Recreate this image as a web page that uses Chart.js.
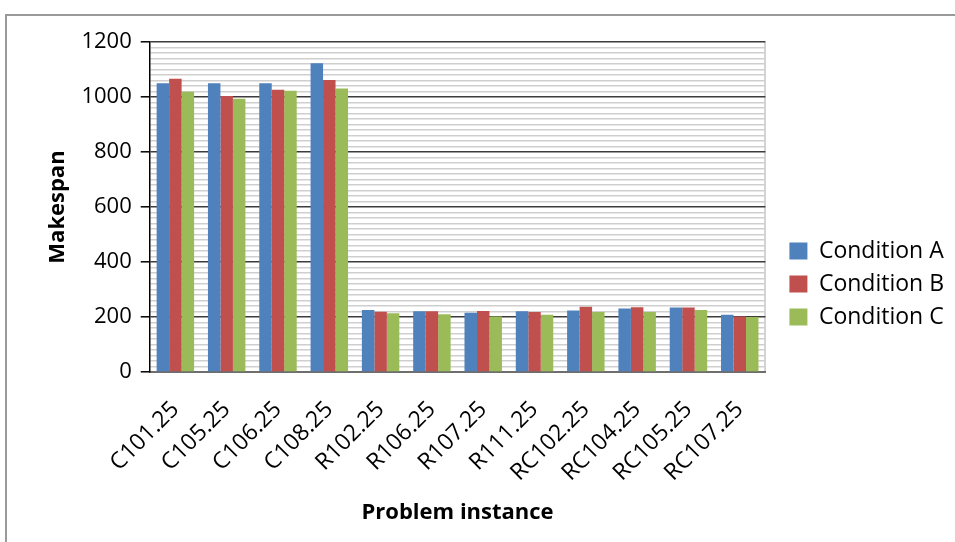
<!DOCTYPE html>
<html>
<head>
<meta charset="utf-8">
<script src="https://cdn.jsdelivr.net/npm/chart.js@4/dist/chart.umd.min.js"></script>
<style>
  html, body { margin: 0; padding: 0; background: #fff; }
  #wrap { position: relative; width: 955px; height: 542px; }
  #frame { position: absolute; left: 5px; top: 14px; width: 960px; height: 540px;
           border-top: 2px solid #9a9a9a; border-left: 2px solid #9a9a9a; box-sizing: border-box; }
  canvas { position: absolute; left: 0; top: 0; }
</style>
</head>
<body>
<div id="wrap">
  <div id="frame"></div>
  <canvas id="chart" width="955" height="542"></canvas>
</div>
<script>
// Problem instances and makespan per condition
const instances = ['C101.25', 'C105.25', 'C106.25', 'C108.25', 'R102.25', 'R106.25',
                   'R107.25', 'R111.25', 'RC102.25', 'RC104.25', 'RC105.25', 'RC107.25'];
const conditionA = [1050, 1050, 1050, 1123, 226, 221, 216, 221, 224, 231, 235, 208];
const conditionB = [1066, 1004, 1026, 1062, 219, 221, 222, 218, 237, 236, 235, 202];
const conditionC = [1019, 994, 1023, 1031, 214, 210, 202, 208, 218, 218, 226, 200];
const seriesNames = ['Condition A', 'Condition B', 'Condition C'];
const yMin = 0, yMax = 1200, majorStep = 200, minorStep = 20;

const FONT = "'Open Sans', 'DejaVu Sans', sans-serif";
const isMajor = v => v % majorStep === 0;

// nudge the legend away from the plot area
const legendOffset = {
  id: 'legendOffset',
  afterLayout(chart) {
    const lg = chart.legend;
    if (lg) { lg.left += 14; lg.right += 14; }
  }
};

new Chart(document.getElementById('chart'), {
  type: 'bar',
  data: {
    labels: instances,
    datasets: [
      { label: seriesNames[0], data: conditionA, backgroundColor: '#4F81BD' },
      { label: seriesNames[1], data: conditionB, backgroundColor: '#C0504D' },
      { label: seriesNames[2], data: conditionC, backgroundColor: '#9BBB59' }
    ]
  },
  options: {
    responsive: false,
    animation: false,
    devicePixelRatio: 1,
    layout: { padding: { left: 10, right: 15, top: 42, bottom: 16 } },
    datasets: { bar: { categoryPercentage: 0.73, barPercentage: 1.0, borderWidth: 0 } },
    plugins: {
      tooltip: { enabled: false },
      legend: {
        position: 'right',
        align: 'center',
        labels: {
          font: { family: FONT, size: 23 },
          color: '#000',
          boxWidth: 18,
          boxHeight: 17,
          padding: 10
        }
      }
    },
    scales: {
      x: {
        grid: {
          drawTicks: false,
          color: c => (c.type === 'scale' ? '#d4d4d4' : 'rgba(0,0,0,0)'),
          lineWidth: 2
        },
        border: { display: true, color: '#6e6e6e', width: 2 },
        ticks: {
          font: { family: FONT, size: 23 },
          color: '#000',
          minRotation: 45,
          maxRotation: 45,
          padding: 24,
          autoSkip: false
        },
        title: {
          display: true,
          text: 'Problem instance',
          font: { family: FONT, size: 22, weight: 'bold' },
          color: '#000',
          padding: { top: -11, bottom: 0 }
        }
      },
      y: {
        min: yMin,
        max: yMax,
        grid: {
          color: c => (isMajor(c.tick.value) ? '#3c3c3c' : '#cfcfcf'),
          lineWidth: 1.6,
          tickColor: c => (isMajor(c.tick.value) ? '#000' : 'rgba(0,0,0,0)'),
          tickLength: 9,
          tickWidth: 1.5
        },
        border: { display: true, color: '#000', width: 1.5 },
        ticks: {
          stepSize: minorStep,
          autoSkip: false,
          font: { family: FONT, size: 22 },
          color: '#000',
          padding: 9,
          callback: v => (isMajor(v) ? String(v) : '')
        },
        title: {
          display: true,
          text: 'Makespan',
          font: { family: FONT, size: 22, weight: 'bold' },
          color: '#000',
          padding: { top: 35, bottom: 1 }
        }
      }
    }
  },
  plugins: [legendOffset]
});
</script>
</body>
</html>
